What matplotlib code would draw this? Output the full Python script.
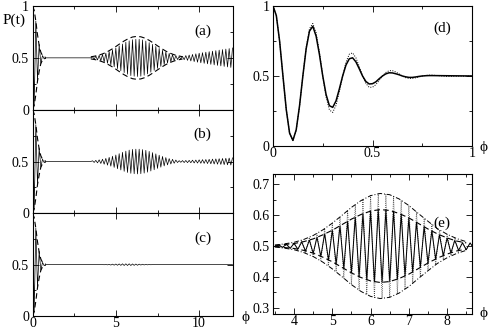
import numpy as np
import matplotlib
matplotlib.use("Agg")
import matplotlib.pyplot as plt
from matplotlib.ticker import FixedLocator

plt.rcParams['font.family'] = ['Liberation Serif', 'DejaVu Serif']
plt.rcParams['font.size'] = 10
plt.rcParams['axes.linewidth'] = 0.8

# ---- data: panels (a)-(c), P(t) extrema every 0.1 in t ----
t_grid = np.round(np.arange(0, 121) / 10, 1)

p_a = [1.0, 0.04, 0.855, 0.276, 0.63, 0.445, 0.522, 0.49, 0.5, 0.5,
       0.5, 0.5, 0.5, 0.5, 0.5, 0.5, 0.5, 0.5, 0.5, 0.5,
       0.5, 0.5, 0.5, 0.5, 0.5, 0.5, 0.5, 0.5, 0.5, 0.5,
       0.5, 0.5, 0.5, 0.5, 0.5, 0.5, 0.511, 0.487, 0.516, 0.480,
       0.524, 0.472, 0.533, 0.461, 0.545, 0.448, 0.560, 0.432, 0.577, 0.414,
       0.595, 0.396, 0.614, 0.376, 0.633, 0.358, 0.651, 0.342, 0.664, 0.329,
       0.675, 0.323, 0.679, 0.320, 0.679, 0.323, 0.673, 0.332, 0.662, 0.345,
       0.647, 0.362, 0.630, 0.380, 0.610, 0.399, 0.591, 0.418, 0.573, 0.436,
       0.557, 0.450, 0.543, 0.463, 0.531, 0.474, 0.522, 0.484, 0.511, 0.489,
       0.514, 0.482, 0.522, 0.476, 0.527, 0.470, 0.533, 0.464, 0.539, 0.458,
       0.545, 0.452, 0.550, 0.447, 0.555, 0.442, 0.560, 0.437, 0.565, 0.432,
       0.570, 0.427, 0.575, 0.422, 0.580, 0.417, 0.585, 0.412, 0.590, 0.407,
       0.595]

p_b = [1.0, 0.04, 0.855, 0.276, 0.63, 0.445, 0.522, 0.49, 0.5, 0.5,
       0.5, 0.5, 0.5, 0.5, 0.5, 0.5, 0.5, 0.5, 0.5, 0.5,
       0.5, 0.5, 0.5, 0.5, 0.5, 0.5, 0.5, 0.5, 0.5, 0.5,
       0.5, 0.5, 0.5, 0.5, 0.5, 0.5, 0.507, 0.491, 0.511, 0.487,
       0.516, 0.481, 0.522, 0.474, 0.530, 0.465, 0.540, 0.455, 0.551, 0.443,
       0.563, 0.430, 0.576, 0.418, 0.589, 0.405, 0.600, 0.394, 0.610, 0.386,
       0.617, 0.382, 0.619, 0.380, 0.619, 0.382, 0.615, 0.388, 0.608, 0.397,
       0.598, 0.408, 0.586, 0.420, 0.574, 0.433, 0.561, 0.445, 0.549, 0.457,
       0.538, 0.467, 0.528, 0.476, 0.521, 0.483, 0.514, 0.490, 0.508, 0.492,
       0.509, 0.490, 0.510, 0.489, 0.511, 0.488, 0.513, 0.486, 0.514, 0.485,
       0.516, 0.483, 0.518, 0.482, 0.519, 0.480, 0.521, 0.478, 0.523, 0.476,
       0.525, 0.474, 0.527, 0.472, 0.529, 0.470, 0.531, 0.468, 0.533, 0.466,
       0.535]

p_c = [1.0, 0.04, 0.855, 0.276, 0.63, 0.445, 0.522, 0.49, 0.5, 0.5,
       0.5, 0.5, 0.5, 0.5, 0.5, 0.5, 0.5, 0.5, 0.5, 0.5,
       0.5, 0.5, 0.5, 0.5, 0.5, 0.5, 0.5, 0.5, 0.5, 0.5,
       0.5, 0.5, 0.5, 0.5, 0.5, 0.5, 0.5, 0.5, 0.5, 0.5,
       0.5, 0.5, 0.501, 0.499, 0.502, 0.498, 0.503, 0.496, 0.505, 0.495,
       0.506, 0.494, 0.507, 0.493, 0.508, 0.492, 0.508, 0.492, 0.508, 0.492,
       0.507, 0.493, 0.506, 0.494, 0.505, 0.496, 0.504, 0.497, 0.503, 0.498,
       0.502, 0.499, 0.501, 0.5, 0.5, 0.5, 0.5, 0.5, 0.5, 0.5,
       0.5, 0.5, 0.5, 0.5, 0.5, 0.5, 0.5, 0.5, 0.5, 0.5,
       0.5, 0.5, 0.5, 0.5, 0.5, 0.5, 0.5, 0.5, 0.5, 0.5,
       0.5, 0.5, 0.5, 0.5, 0.5, 0.5, 0.5, 0.5, 0.5, 0.5,
       0.5, 0.5, 0.5, 0.5, 0.5, 0.5, 0.5, 0.5, 0.5, 0.5,
       0.5]

# dashed envelopes (initial decay, shared by a-c; revival in a)
env0_t = [0, 0.1, 0.2, 0.3, 0.4, 0.5, 0.6, 0.7, 0.8]
env0_hi = [1.0, 0.96, 0.855, 0.724, 0.62, 0.555, 0.522, 0.51, 0.503]
env0_lo = [0.0, 0.04, 0.145, 0.276, 0.37, 0.445, 0.478, 0.49, 0.497]

enva_t = np.arange(14, 37) / 4
enva_hi = [0.510, 0.517, 0.527, 0.541, 0.560, 0.583, 0.609, 0.637, 0.663, 0.685, 0.701, 0.707,
           0.703, 0.690, 0.669, 0.643, 0.616, 0.589, 0.565, 0.545, 0.530, 0.519, 0.511]
enva_lo = [0.490, 0.483, 0.473, 0.459, 0.440, 0.417, 0.391, 0.363, 0.337, 0.315, 0.299, 0.293,
           0.297, 0.310, 0.331, 0.357, 0.384, 0.411, 0.435, 0.455, 0.470, 0.481, 0.489]

# ---- panel (d) ----
phi_d = np.append(np.arange(49) / 60, 1.0)
pd_solid = [1.000, 0.932, 0.748, 0.5, 0.260, 0.092, 0.040, 0.116, 0.287, 0.5,
            0.695, 0.821, 0.855, 0.785, 0.654, 0.5, 0.368, 0.288, 0.276, 0.322,
            0.407, 0.5, 0.578, 0.623, 0.630, 0.601, 0.552, 0.5, 0.461, 0.443,
            0.445, 0.458, 0.480, 0.5, 0.515, 0.523, 0.522, 0.516, 0.509, 0.5,
            0.494, 0.490, 0.490, 0.493, 0.497, 0.5, 0.502, 0.503, 0.503,
            0.5]
phi_d2 = np.append(np.arange(55) / 60, 1.0)
pd_dot = [1.000, 0.932, 0.748, 0.5, 0.260, 0.092, 0.040, 0.112, 0.283, 0.5,
          0.703, 0.838, 0.875, 0.809, 0.669, 0.5, 0.351, 0.258, 0.240, 0.290,
          0.387, 0.5, 0.598, 0.656, 0.665, 0.630, 0.568, 0.5, 0.447, 0.419,
          0.420, 0.438, 0.468, 0.5, 0.525, 0.538, 0.538, 0.529, 0.515, 0.5,
          0.488, 0.483, 0.483, 0.487, 0.493, 0.5, 0.504, 0.506, 0.506, 0.504,
          0.502, 0.5, 0.498, 0.497, 0.498,
          0.5]

# ---- panel (e) ----
phi_e = np.arange(34, 88) / 10
pe_solid = [0.502, 0.498, 0.503, 0.496, 0.505, 0.493,
            0.508, 0.490, 0.513, 0.484, 0.519, 0.477, 0.528, 0.467, 0.539, 0.455,
            0.551, 0.442, 0.565, 0.428, 0.580, 0.414, 0.593, 0.401, 0.605, 0.390,
            0.613, 0.384, 0.618, 0.382, 0.617, 0.385, 0.612, 0.392, 0.603, 0.403,
            0.591, 0.416, 0.577, 0.431, 0.562, 0.445, 0.549, 0.458, 0.536, 0.469,
            0.526, 0.478, 0.518, 0.486, 0.510, 0.488, 0.510, 0.492]
pe_dot = [0.502, 0.497, 0.504, 0.494, 0.507, 0.491,
          0.512, 0.485, 0.519, 0.477, 0.528, 0.466, 0.540, 0.453, 0.556, 0.436,
          0.574, 0.417, 0.594, 0.396, 0.615, 0.375, 0.634, 0.357, 0.651, 0.342,
          0.663, 0.333, 0.669, 0.330, 0.669, 0.334, 0.661, 0.345, 0.648, 0.360,
          0.631, 0.380, 0.610, 0.400, 0.590, 0.421, 0.570, 0.439, 0.552, 0.456,
          0.538, 0.469, 0.526, 0.480, 0.515, 0.488, 0.510, 0.492]

enve_t = np.arange(14, 35) / 4
enve_in_hi = [0.502, 0.505, 0.508, 0.514, 0.523, 0.536, 0.551, 0.569, 0.587, 0.602, 0.613,
              0.618, 0.615, 0.605, 0.591, 0.573, 0.555, 0.539, 0.526, 0.516, 0.510]
enve_in_lo = [0.498, 0.495, 0.492, 0.486, 0.477, 0.464, 0.449, 0.431, 0.413, 0.398, 0.387,
              0.382, 0.385, 0.395, 0.409, 0.427, 0.445, 0.461, 0.474, 0.484, 0.490]
enve_out_hi = [0.503, 0.507, 0.512, 0.521, 0.534, 0.552, 0.574, 0.599, 0.625, 0.647, 0.663,
               0.670, 0.666, 0.652, 0.631, 0.605, 0.580, 0.556, 0.538, 0.524, 0.514]
enve_out_lo = [0.497, 0.493, 0.488, 0.479, 0.466, 0.448, 0.426, 0.401, 0.375, 0.353, 0.337,
               0.330, 0.334, 0.348, 0.369, 0.395, 0.420, 0.444, 0.462, 0.476, 0.486]

W, H = 491, 331
fig = plt.figure(figsize=(W / 100, H / 100), dpi=100)


def px_axes(x0, y0, x1, y1):
    return fig.add_axes([x0 / W, 1 - y1 / H, (x1 - x0) / W, (y1 - y0) / H])


def style(ax):
    ax.tick_params(which='both', direction='in', top=True, right=True, width=0.6,
                   labelsize=10, pad=2.5)
    ax.tick_params(which='major', length=4)
    ax.tick_params(which='minor', length=2)
    ax.tick_params(axis='x', pad=1)


dash = (0, (5, 3))
lw_osc = 0.5

left = [(6, 109.7, p_a, '(a)'), (109.7, 213.3, p_b, '(b)'), (213.3, 316, p_c, '(c)')]
for i, (y0, y1, pvals, lab) in enumerate(left):
    ax = px_axes(32.5, y0, 232.5, y1)
    ax.plot(t_grid, pvals, color='black', lw=lw_osc)
    ax.plot(env0_t, env0_hi, color='black', lw=0.8, ls=dash)
    ax.plot(env0_t, env0_lo, color='black', lw=0.8, ls=dash)
    if i == 0:
        ax.plot(enva_t, enva_hi, color='black', lw=0.8, ls=dash)
        ax.plot(enva_t, enva_lo, color='black', lw=0.8, ls=dash)
    ax.set_xlim(0, 12)
    ax.set_ylim(0, 1)
    ax.xaxis.set_major_locator(FixedLocator([0, 5, 10]))
    ax.xaxis.set_minor_locator(FixedLocator([2.5, 7.5]))
    ax.yaxis.set_major_locator(FixedLocator([0, 0.5, 1]))
    ax.yaxis.set_minor_locator(FixedLocator([0.25, 0.75]))
    ax.set_yticklabels(['0', '0.5', '1' if i == 0 else ''])
    style(ax)
    if i < 2:
        ax.set_xticklabels([])
    else:
        ax.set_xticklabels(['0', '5', '10'])
    ax.text(0.85, 0.76, lab, transform=ax.transAxes, ha='center', va='center', fontsize=11)

# (d)
axd = px_axes(273, 6, 472, 146)
axd.plot(phi_d2, pd_dot, color='black', lw=0.7, ls=(0, (1, 1.5)))
axd.plot(phi_d, pd_solid, color='black', lw=1.1)
axd.set_xlim(0, 1)
axd.set_ylim(0, 1)
axd.xaxis.set_major_locator(FixedLocator([0, 0.5, 1]))
axd.xaxis.set_minor_locator(FixedLocator([0.25, 0.75]))
axd.set_xticklabels(['0', '0.5', '1'])
axd.yaxis.set_major_locator(FixedLocator([0, 0.5, 1]))
axd.yaxis.set_minor_locator(FixedLocator([0.25, 0.75]))
axd.set_yticklabels(['0', '0.5', '1'])
style(axd)
axd.text(0.85, 0.843, '(d)', transform=axd.transAxes, ha='center', va='center', fontsize=11)

# (e)
axe = px_axes(273, 174, 472, 314)
axe.plot(phi_e, pe_dot, color='0.25', lw=0.6, ls=(0, (1, 1.5)))
axe.plot(phi_e, pe_solid, color='black', lw=0.7)
axe.plot(enve_t, enve_in_hi, color='black', lw=0.8, ls=dash)
axe.plot(enve_t, enve_in_lo, color='black', lw=0.8, ls=dash)
axe.plot(enve_t, enve_out_hi, color='black', lw=0.7, ls=(0, (5, 2, 1, 2)))
axe.plot(enve_t, enve_out_lo, color='black', lw=0.7, ls=(0, (5, 2, 1, 2)))
axe.set_xlim(3.45, 8.65)
axe.set_ylim(0.28, 0.733)
axe.xaxis.set_major_locator(FixedLocator([4, 5, 6, 7, 8]))
axe.xaxis.set_minor_locator(FixedLocator([3.5, 4.5, 5.5, 6.5, 7.5, 8.5]))
axe.yaxis.set_major_locator(FixedLocator([0.3, 0.4, 0.5, 0.6, 0.7]))
axe.yaxis.set_minor_locator(FixedLocator([0.35, 0.45, 0.55, 0.65]))
axe.set_xticklabels(['4', '5', '6', '7', '8'])
axe.set_yticklabels(['0.3', '0.4', '0.5', '0.6', '0.7'])
style(axe)
axe.text(0.85, 0.65, '(e)', transform=axe.transAxes, ha='center', va='center', fontsize=11)


def ftext(x, y, s, **kw):
    fig.text(x / W, 1 - y / H, s, ha='center', va='center', **kw)


ftext(14, 20, 'P(t)', fontsize=11)
ftext(245, 317, 'ϕ', fontsize=11)
ftext(484, 147, 'ϕ', fontsize=11)
ftext(484, 313, 'ϕ', fontsize=11)

fig.savefig('out.png', dpi=100)
